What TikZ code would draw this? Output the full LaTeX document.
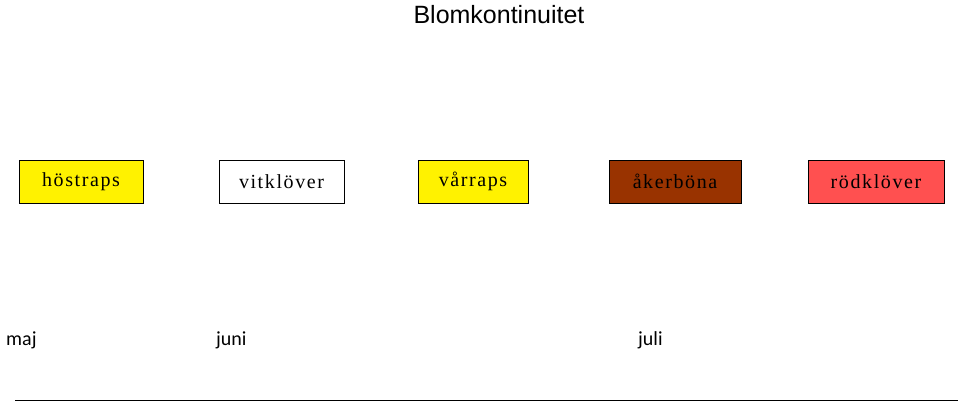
\documentclass[tikz,border=0pt]{standalone}
\usepackage{fontspec}
\setmainfont{Liberation Serif}
\newfontfamily\arialf{Liberation Sans}
\newfontfamily\calf{Carlito}
\begin{document}
\begin{tikzpicture}[x=1pt,y=-1pt,
  crop/.style={draw=black,line width=0.8pt,minimum height=43pt,inner sep=0pt,font=\fontsize{20}{22}\selectfont\addfontfeature{LetterSpace=8}},
  month/.style={anchor=west,font=\calf\fontsize{20}{22}\selectfont,inner sep=0pt}]
\useasboundingbox (0,0) rectangle (960,404);
\node[font=\arialf\fontsize{25}{28}\selectfont] (t) at (499,15) {Blomkontinuitet};
\node[crop,fill=yellow,minimum width=124pt] (a) at (81,181.5) {höstraps};
\node[crop,fill=white,minimum width=125pt] (b) at (281.5,181.5) {vitklöver};
\node[crop,fill=yellow,minimum width=110pt] (c) at (473,181.5) {vårraps};
\node[crop,fill={rgb,255:red,153;green,51;blue,0},minimum width=132pt] (d) at (675,181.5) {åkerböna};
\node[crop,fill={rgb,255:red,255;green,80;blue,80},minimum width=136pt] (e) at (876,181.5) {rödklöver};
\node[month] (m1) at (6,340) {maj};
\node[month] (m2) at (216,340) {juni};
\node[month] (m3) at (638,340) {juli};
\coordinate (l1) at (15,400); \coordinate (l2) at (958,400);
\draw[line width=0.8pt] (l1) -- (l2);
\end{tikzpicture}
\end{document}
